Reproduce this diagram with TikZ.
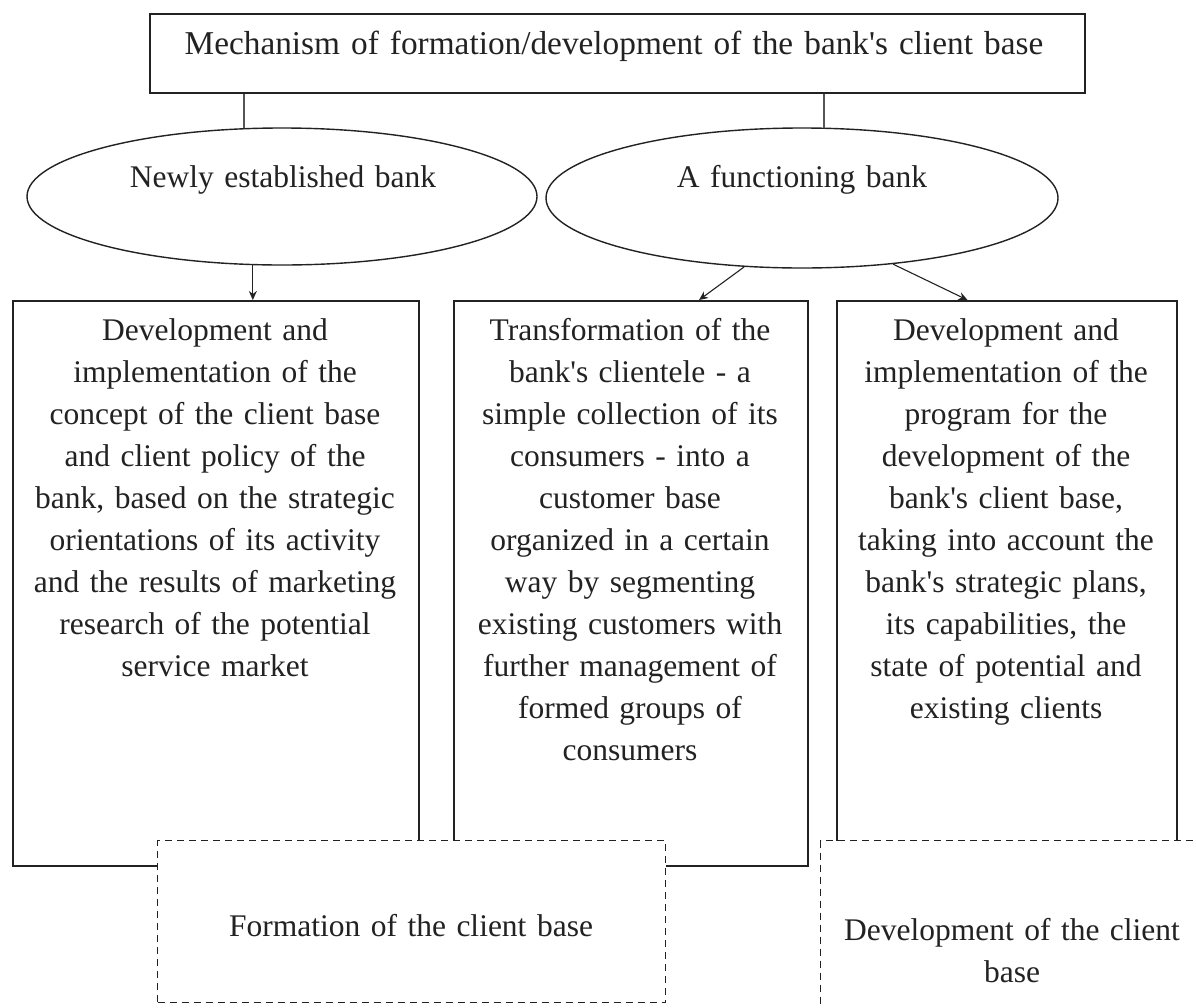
\documentclass[tikz,border=0pt]{standalone}
\usepackage{fontspec}
\setmainfont{Liberation Serif}[Ligatures=TeXOff]
\usetikzlibrary{shapes.geometric,arrows.meta,calc}
\definecolor{ink}{HTML}{222222}
\definecolor{linkgray}{HTML}{555555}
\begin{document}
\begin{tikzpicture}[x=1pt,y=-1pt,
  box/.style={draw=ink, line width=1.5pt, fill=white, rectangle, inner sep=0pt, anchor=north west},
  dbox/.style={draw=ink, line width=1.3pt, fill=white, dash pattern=on 7pt off 5pt, rectangle, inner sep=0pt, anchor=north west},
  oval/.style={draw=ink, line width=1.4pt, ellipse, inner sep=0pt},
  txt/.style={text=ink, font=\fontsize{31.5}{42}\selectfont, align=center, anchor=base, inner sep=0pt},
  link/.style={draw=linkgray, line width=2pt},
  arr/.style={draw=ink, line width=1.1pt, -{Stealth[length=9pt,width=8pt]}}]

\useasboundingbox (0,0) rectangle (1196,1007);
\clip (0,0) rectangle (1196,1007);

% heading
\node[box, minimum width=935pt, minimum height=79pt] (head) at (149,13) {};
\node[txt, font=\fontsize{33.3}{42}\selectfont, text width=935pt] (headtxt) at (614,54)
  {Mechanism of formation/development of the bank's client base};

% the two kinds of bank
\node[oval, minimum width=510pt, minimum height=137pt] (newbank) at (282,196.5) {};
\node[oval, minimum width=512pt, minimum height=140pt] (oldbank) at (802,198) {};
\node[txt, text width=480pt] (newtxt) at (283,187) {Newly established bank};
\node[txt, text width=480pt] (oldtxt) at (802,187) {A functioning bank};

\draw[link] (newbank.119.9 |- head.south) -- (newbank.119.9);
\draw[link] (oldbank.73.7 |- head.south) -- (oldbank.73.7);

% activity boxes
\node[box, minimum width=406pt, minimum height=565pt] (concept) at (12,300) {};
\node[box, minimum width=354pt, minimum height=565pt] (transform) at (453,300) {};
\node[box, minimum width=340pt, minimum height=600pt] (program) at (836,300) {};

\node[txt, text width=400pt] (concepttxt) at (215,340) {Development and\\
  implementation of the\\ concept of the client base\\ and client policy of the\\
  bank, based on the strategic\\ orientations of its activity\\
  and the results of marketing\\ research of the potential\\ service market};
\node[txt, text width=350pt] (transformtxt) at (630,340) {Transformation of the\\
  bank's clientele - a\\ simple collection of its\\ consumers - into a\\
  customer base\\ organized in a certain\\ way by segmenting\\
  existing customers with\\ further management of\\ formed groups of\\ consumers};
\node[txt, text width=340pt] (programtxt) at (1006,340) {Development and\\
  implementation of the\\ program for the\\ development of the\\
  bank's client base,\\ taking into account the\\ bank's strategic plans,\\
  its capabilities, the\\ state of potential and\\ existing clients};

% arrows from the banks to the boxes
\draw[arr] (newbank.247.6) -- (newbank.247.6 |- concept.north);
\draw[arr] (oldbank.230) -- ($(transform.north west)!0.692!(transform.north east)$);
\draw[arr] (oldbank.324.5) -- ($(program.north west)!0.385!(program.north east)$);

% outcome boxes
\node[dbox, minimum width=508pt, minimum height=162pt] (formation) at (157,840) {};
\node[dbox, minimum width=390pt, minimum height=180pt] (development) at (820,840) {};
\node[txt, text width=500pt] (formationtxt) at (411,936) {Formation of the client base};
\node[txt, text width=380pt] (developmenttxt) at (1012,940) {Development of the client\\ base};
\end{tikzpicture}
\end{document}
